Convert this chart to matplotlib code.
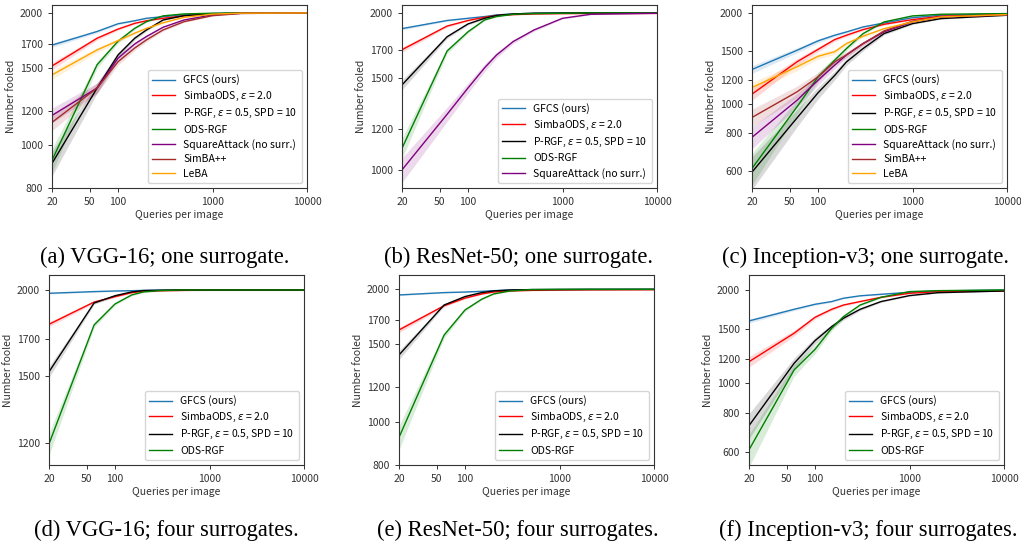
import matplotlib
matplotlib.use('Agg')
import matplotlib.pyplot as plt
from matplotlib.ticker import FixedLocator, NullLocator, FixedFormatter

plt.rcParams['font.family'] = ['Noto Sans CJK JP', 'DejaVu Sans']
plt.rcParams['axes.unicode_minus'] = False

# query budgets at which the fooled counts were recorded
queries = [20, 60, 100, 150, 200, 300, 500, 1000, 2000, 10000]

vgg_one = {
    'GFCS': [1690, 1815, 1890, 1920, 1945, 1962, 1980, 1995, 1999, 2000],
    'SimbaODS': [1515, 1752, 1838, 1894, 1920, 1945, 1970, 1990, 1998, 2000],
    'P-RGF': [910, 1350, 1605, 1752, 1830, 1928, 1972, 1990, 1998, 2000],
    'ODS-RGF': [925, 1525, 1725, 1845, 1911, 1970, 1990, 1997, 2000, 2000],
    'SquareAttack': [1170, 1350, 1578, 1700, 1768, 1856, 1928, 1980, 1997, 2000],
    'SimBA++': [1128, 1350, 1549, 1664, 1737, 1830, 1911, 1972, 1995, 2000],
    'LeBA': [1446, 1648, 1730, 1799, 1845, 1900, 1955, 1988, 1998, 2000],
}

resnet_one = {
    'GFCS': [1866, 1934, 1953, 1968, 1982, 1991, 1997, 1999, 2000, 2000],
    'SimbaODS': [1700, 1887, 1934, 1962, 1977, 1985, 1991, 1994, 1995, 1996],
    'P-RGF': [1455, 1800, 1905, 1953, 1977, 1991, 1997, 1999, 2000, 2000],
    'ODS-RGF': [1100, 1690, 1840, 1939, 1968, 1988, 1994, 1997, 2000, 2000],
    'SquareAttack': [1000, 1278, 1436, 1570, 1660, 1762, 1855, 1953, 1988, 1997],
}

inception_one = {
    'GFCS': [1302, 1508, 1620, 1691, 1734, 1802, 1857, 1934, 1970, 1990],
    'SimbaODS': [1079, 1381, 1518, 1636, 1691, 1766, 1838, 1906, 1955, 1980],
    'P-RGF': [595, 900, 1090, 1244, 1380, 1528, 1713, 1848, 1920, 1970],
    'ODS-RGF': [612, 980, 1231, 1398, 1528, 1713, 1872, 1960, 1985, 1995],
    'SquareAttack': [776, 1030, 1200, 1346, 1455, 1587, 1735, 1872, 1945, 1975],
    'SimBA++': [903, 1098, 1231, 1380, 1455, 1587, 1748, 1883, 1945, 1975],
    'LeBA': [1135, 1330, 1440, 1491, 1587, 1679, 1778, 1872, 1945, 1980],
}

vgg_four = {
    'GFCS': [1978, 1989, 1993, 1995, 1997, 1999, 2000, 2000, 2000, 2000],
    'SimbaODS': [1784, 1921, 1956, 1982, 1991, 1995, 1997, 2000, 2000, 2000],
    'P-RGF': [1523, 1915, 1962, 1987, 1996, 1998, 2000, 2000, 2000, 2000],
    'ODS-RGF': [1198, 1780, 1909, 1967, 1987, 1996, 2000, 2000, 2000, 2000],
}

resnet_four = {
    'GFCS': [1942, 1966, 1972, 1979, 1986, 1993, 1997, 1998, 1999, 2000],
    'SimbaODS': [1618, 1836, 1910, 1952, 1972, 1983, 1989, 1993, 1995, 1996],
    'P-RGF': [1420, 1843, 1926, 1966, 1983, 1993, 1997, 1998, 1999, 2000],
    'ODS-RGF': [924, 1575, 1796, 1899, 1952, 1983, 1997, 1999, 2000, 2000],
}

inception_four = {
    'GFCS': [1588, 1732, 1798, 1835, 1881, 1915, 1937, 1966, 1985, 2000],
    'SimbaODS': [1172, 1449, 1632, 1732, 1788, 1835, 1894, 1951, 1976, 1985],
    'P-RGF': [728, 1158, 1371, 1522, 1620, 1732, 1835, 1918, 1960, 1985],
    'ODS-RGF': [608, 1102, 1285, 1504, 1640, 1788, 1894, 1976, 1990, 2000],
}

# relative spread of the shaded band (fraction of images not yet fooled)
band_spread = 0.05
n_images = 2000

labels = {
    'GFCS': 'GFCS (ours)',
    'SimbaODS': r'SimbaODS, $\epsilon$ = 2.0',
    'P-RGF': r'P-RGF, $\epsilon$ = 0.5, SPD = 10',
    'ODS-RGF': 'ODS-RGF',
    'SquareAttack': 'SquareAttack (no surr.)',
    'SimBA++': 'SimBA++',
    'LeBA': 'LeBA',
}

colors = {
    'GFCS': '#1f77b4',
    'SimbaODS': 'red',
    'P-RGF': 'black',
    'ODS-RGF': 'green',
    'SquareAttack': 'purple',
    'SimBA++': 'brown',
    'LeBA': 'orange',
}

W, H = 1021, 548
FS = 7.5

panels = [
    # data, axes box in pixels (left, right, top, bottom), ylim, yticks, caption, caption pos
    (vgg_one, (52, 307, 5, 188), (800, 2085), [800, 1000, 1200, 1500, 1700, 2000],
     '(a) VGG-16; one surrogate.', (165, 257)),
    (resnet_one, (402, 657, 5, 188), (923, 2071), [1000, 1200, 1500, 1700, 2000],
     '(b) ResNet-50; one surrogate.', (518, 257)),
    (inception_one, (752, 1007, 5, 188), (527, 2130), [600, 800, 1000, 1200, 1500, 2000],
     '(c) Inception-v3; one surrogate.', (865, 257)),
    (vgg_four, (49, 304, 275, 465), (1117, 2102), [1200, 1500, 1700, 2000],
     '(d) VGG-16; four surrogates.', (166, 530)),
    (resnet_four, (399, 654, 275, 465), (800, 2155), [800, 1000, 1200, 1500, 1700, 2000],
     '(e) ResNet-50; four surrogates.', (518, 530)),
    (inception_four, (749, 1004, 275, 465), (543, 2236), [600, 800, 1000, 1200, 1500, 2000],
     '(f) Inception-v3; four surrogates.', (868, 530)),
]

fig = plt.figure(figsize=(W / 100, H / 100), dpi=100)

for data, box, ylim, yticks, caption, cpos in panels:
    left, right, top, bottom = box
    ax = fig.add_axes([left / W, 1 - bottom / H, (right - left) / W, (bottom - top) / H])

    for key, values in data.items():
        lo = [n_images - (n_images - v) * (1 + band_spread) - 4 for v in values]
        hi = [n_images - (n_images - v) * (1 - band_spread) + 4 for v in values]
        ax.fill_between(queries, lo, hi, color=colors[key], alpha=0.15, linewidth=0)
        ax.plot(queries, values, color=colors[key], linewidth=1.0, label=labels[key])

    ax.set_xscale('log')
    ax.set_yscale('log')
    ax.set_xlim(20, 10000)
    ax.set_ylim(*ylim)

    ax.xaxis.set_major_locator(FixedLocator([20, 50, 100, 1000, 10000]))
    ax.xaxis.set_major_formatter(FixedFormatter(['20', '50', '100', '1000', '10000']))
    ax.xaxis.set_minor_locator(NullLocator())
    ax.yaxis.set_major_locator(FixedLocator(yticks))
    ax.yaxis.set_major_formatter(FixedFormatter([str(t) for t in yticks]))
    ax.yaxis.set_minor_locator(NullLocator())

    ax.tick_params(labelsize=FS, colors='#333333', length=3, width=0.7)
    for spine in ax.spines.values():
        spine.set_linewidth(0.8)
        spine.set_color('#333333')

    ax.set_xlabel('Queries per image', fontsize=FS, color='#333333', labelpad=2)
    ax.set_ylabel('Number fooled', fontsize=FS, color='#333333', labelpad=3)
    ax.legend(loc='lower right', fontsize=FS, framealpha=0.8, edgecolor='#cccccc',
              fancybox=True, handlelength=2.2, labelspacing=0.42)

    fig.text(cpos[0] / W, 1 - cpos[1] / H, caption, ha='center', va='center',
             fontsize=16.3, family='Liberation Serif')

fig.savefig('out.png', dpi=100)
